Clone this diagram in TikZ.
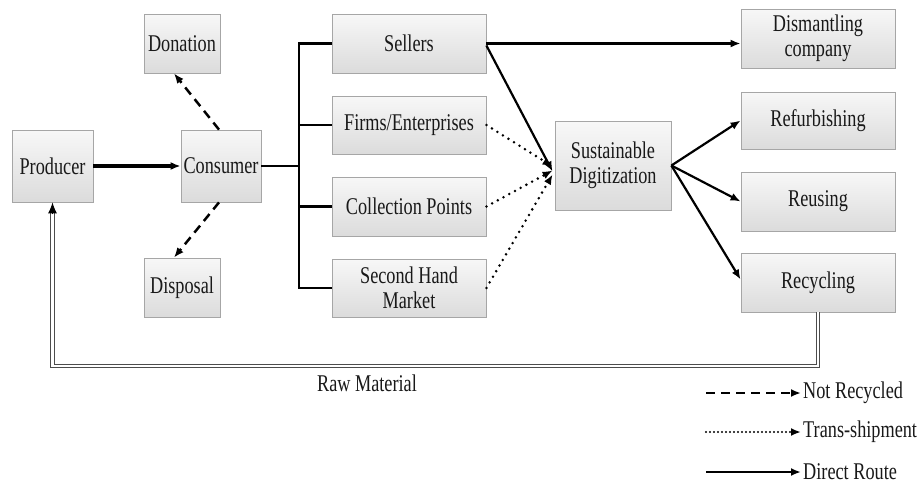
\documentclass[tikz,border=0pt]{standalone}
\usepackage{fontspec}
\setmainfont[FakeStretch=0.76]{Liberation Serif}
\usetikzlibrary{arrows.meta}
\begin{document}
\begin{tikzpicture}[x=1pt,y=-1pt,
  box/.style={draw=gray!70, line width=0.8pt, top color=gray!6, bottom color=gray!28,
    inner sep=0pt, align=center, text=black!90,
    font=\fontsize{24}{25.5}\selectfont},
  lbl/.style={inner sep=0pt, text=black!90, font=\fontsize{24}{25.5}\selectfont},
  tip/.style={-{Latex[length=10pt,width=8pt]}},
  solidln/.style={line width=2.2pt, black},
  dashln/.style={line width=2.5pt, black, dash pattern=on 9pt off 6pt},
  dotln/.style={line width=2.8pt, black, line cap=round, dash pattern=on 0pt off 6.5pt},
]
\useasboundingbox (0,0) rectangle (919,490);
\fill[white] (0,0) rectangle (919,490);

\node[box, minimum width=81pt, minimum height=72pt] (producer) at (52.5,166) {Producer};
\node[box, minimum width=80pt, minimum height=72pt] (consumer) at (221,166) {Consumer};
\node[box, minimum width=76pt, minimum height=59pt] (donation) at (182,43.5) {Donation};
\node[box, minimum width=76pt, minimum height=59pt] (disposal) at (182,287.5) {Disposal};
\node[box, minimum width=154pt, minimum height=59pt] (sellers) at (409,43.5) {Sellers};
\node[box, minimum width=154pt, minimum height=58pt] (firms) at (409,125) {Firms/Enterprises};
\node[box, minimum width=154pt, minimum height=59pt] (collection) at (409,206.5) {Collection Points};
\node[box, minimum width=154pt, minimum height=58pt] (second) at (409,288) {Second Hand\\Market};
\node[box, minimum width=116pt, minimum height=89pt] (sust) at (613,165.5) {Sustainable\\Digitization};
\node[box, minimum width=154pt, minimum height=59pt] (dismantling) at (818,38.5) {Dismantling\\company};
\node[box, minimum width=154pt, minimum height=57pt] (refurb) at (818,120.5) {Refurbishing};
\node[box, minimum width=154pt, minimum height=59pt] (reusing) at (818,201.5) {Reusing};
\node[box, minimum width=154pt, minimum height=59pt] (recycling) at (818,282.5) {Recycling};

% producer -> consumer
\draw[tip, line width=3.4pt] (producer.east) -- (consumer.west);

% not recycled
\draw[dashln, tip] ([xshift=-2pt]consumer.north) -- ([xshift=-8pt]donation.south);
\draw[dashln, tip] ([xshift=-2pt]consumer.south) -- ([xshift=-8pt]disposal.north);

% trunk
\coordinate (trunk) at (299,166);
\draw[solidln] (consumer.east) -- (trunk);
\draw[solidln] (trunk) |- (sellers.west);
\draw[solidln] (trunk) |- (firms.west);
\draw[solidln] (trunk) |- (collection.west);
\draw[solidln] (trunk) |- (second.west);

% sellers routes
\draw[solidln, tip] (sellers.east) -- (sellers.east -| dismantling.west);
\draw[solidln, tip] ([yshift=-2pt]sellers.east) -- ([xshift=-2pt,yshift=-6pt]sust.west);

% trans-shipment
\draw[dotln, tip] (firms.east) -- ([xshift=-2pt,yshift=-1pt]sust.west);
\draw[dotln, tip] (collection.east) -- ([xshift=-2pt,yshift=-5pt]sust.west);
\draw[dotln, tip] (second.east) -- ([xshift=-2pt,yshift=-9pt]sust.west);

% digitization outputs
\draw[solidln, tip] (sust.east) -- (refurb.west);
\draw[solidln, tip] (sust.east) -- (reusing.west);
\draw[solidln, tip] (sust.east) -- ([yshift=3pt]recycling.west);

% raw material feedback
\coordinate (rbr) at (818,366);
\coordinate (rbl) at (52.5,366);
\draw[double=white, double distance=2.4pt, line width=1pt, draw=black!70]
  (recycling.south) -- (rbr) -- (rbl) -- ([yshift=-8pt]producer.south);
\draw[line width=1pt, -{Latex[length=11pt,width=9pt]}] ([yshift=-12pt]producer.south) -- (producer.south);
\node[lbl] (raw) at (367,383) {Raw Material};

% legend
\node[lbl, anchor=west] (leg1) at (803,393) {Not Recycled};
\node[lbl, anchor=west] (leg2) at (803,432) {Trans-shipment};
\node[lbl, anchor=west] (leg3) at (803,472) {Direct Route};
\coordinate (l1s) at (706,393);
\coordinate (l2s) at (706,432);
\coordinate (l3s) at (706,472);
\draw[dashln, tip] (l1s) -- ([xshift=-2pt]leg1.west);
\draw[line width=2.4pt, line cap=round, dash pattern=on 0pt off 4pt, tip] (l2s) -- ([xshift=-2pt]leg2.west);
\draw[solidln, tip] (l3s) -- ([xshift=-2pt]leg3.west);
\end{tikzpicture}
\end{document}
